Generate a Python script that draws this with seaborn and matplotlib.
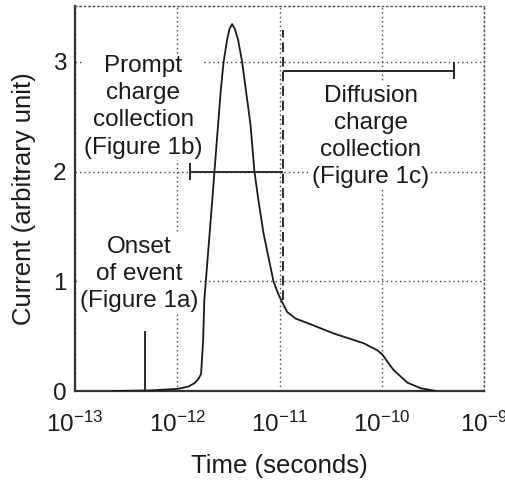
import numpy as np
import pandas as pd
import matplotlib
matplotlib.use("Agg")
import matplotlib.pyplot as plt
import seaborn as sns

# ---- data ----
time_s = [2.36e-13, 5.43e-13, 1.02e-12, 1.28e-12, 1.47e-12, 1.61e-12, 1.71e-12,
          1.79e-12, 1.84e-12, 2.01e-12, 2.20e-12, 2.31e-12, 2.51e-12, 2.67e-12,
          2.84e-12, 3.07e-12, 3.24e-12, 3.44e-12, 3.66e-12, 3.94e-12, 4.31e-12,
          5.20e-12, 5.69e-12, 6.22e-12, 6.97e-12, 8.73e-12, 9.77e-12, 1.06e-11,
          1.19e-11, 1.44e-11, 1.87e-11, 3.38e-11, 6.67e-11, 9.08e-11, 1.02e-10,
          1.15e-10, 1.31e-10, 1.79e-10, 2.41e-10, 3.38e-10]
current = [0.0, 0.005, 0.02, 0.04, 0.07, 0.11, 0.155,
           0.46, 0.83, 1.28, 1.74, 2.0, 2.43, 2.75,
           3.0, 3.2, 3.3, 3.345, 3.3, 3.2, 3.0,
           2.43, 2.0, 1.74, 1.44, 1.0, 0.88, 0.81,
           0.72, 0.66, 0.62, 0.525, 0.435, 0.37, 0.33,
           0.26, 0.19, 0.075, 0.025, 0.0]

onset_time = 4.8e-13
onset_height = 0.55
split_time = 1.09e-11
split_range = [0.83, 3.29]
prompt_bar = {"start": 1.34e-12, "end": 1.09e-11, "level": 2.0}
diffusion_bar = {"start": 1.09e-11, "end": 5.05e-10, "level": 2.92}
cap_half = 0.08

xticks = [1e-13, 1e-12, 1e-11, 1e-10, 1e-9]
yticks = [0, 1, 2, 3]
annotations = [
    ("Prompt\ncharge\ncollection\n(Figure 1b)", 4.65e-13, 2.59),
    ("Diffusion\ncharge\ncollection\n(Figure 1c)", 7.8e-11, 2.32),
    ("Onset\nof event\n(Figure 1a)", 4.25e-13, 1.07),
]

# ---- style ----
sns.set_theme(style="white")
plt.rcParams["font.family"] = ["Liberation Sans", "DejaVu Sans"]
plt.rcParams["mathtext.fontset"] = "custom"
plt.rcParams["mathtext.rm"] = "Liberation Sans"
plt.rcParams["mathtext.it"] = "Liberation Sans:italic"
plt.rcParams["mathtext.bf"] = "Liberation Sans:bold"

fig = plt.figure(figsize=(5.05, 4.82), dpi=100)
ax = fig.add_axes([75 / 505, 1 - 391 / 482, (484 - 75) / 505, (391 - 6) / 482])

df = pd.DataFrame({"time": time_s, "current": current})
sns.lineplot(data=df, x="time", y="current", ax=ax, color="#1a1a1a",
             linewidth=1.3, sort=False, zorder=4)

ax.set_xscale("log")
ax.set_xlim(1e-13, 1e-9)
ax.set_ylim(0, 3.51)
ax.set_xticks(xticks)
ax.set_yticks(yticks)
ax.minorticks_off()
ax.xaxis.set_minor_locator(matplotlib.ticker.NullLocator())

ax.set_axisbelow(True)
ax.grid(True, which="major", color="#444444", linestyle=(0, (1, 2.2)), linewidth=1.0)

for side in ["top", "right"]:
    ax.spines[side].set_linestyle((0, (1, 2.2)))
    ax.spines[side].set_linewidth(1.0)
    ax.spines[side].set_color("#555555")
for side in ["left", "bottom"]:
    ax.spines[side].set_linewidth(1.6)
    ax.spines[side].set_color("#333333")

ax.tick_params(axis="both", length=0, labelsize=17.5, colors="#1a1a1a")
ax.tick_params(axis="x", pad=15)
ax.tick_params(axis="y", pad=6)

ax.set_xlabel("Time (seconds)", fontsize=18.5, color="#1a1a1a", labelpad=12)
ax.set_ylabel("Current (arbitrary unit)", fontsize=18.5, color="#1a1a1a", labelpad=12)

# annotation marks
lc = "#2a2a2a"
ax.vlines(onset_time, 0, onset_height, color=lc, linewidth=1.4, zorder=4)
ax.vlines(split_time, split_range[0], split_range[1], color=lc, linewidth=1.4,
          linestyles=(0, (5, 2.5)), zorder=4)
ax.hlines(prompt_bar["level"], prompt_bar["start"], prompt_bar["end"], color=lc,
          linewidth=1.4, zorder=4)
ax.vlines(prompt_bar["start"], prompt_bar["level"] - cap_half, prompt_bar["level"] + cap_half,
          color=lc, linewidth=1.4, zorder=4)
ax.hlines(diffusion_bar["level"], diffusion_bar["start"], diffusion_bar["end"], color=lc,
          linewidth=1.4, zorder=4)
ax.vlines(diffusion_bar["end"], diffusion_bar["level"] - cap_half, diffusion_bar["level"] + cap_half,
          color=lc, linewidth=1.4, zorder=4)

for txt, x, y in annotations:
    ax.text(x, y, txt, ha="center", va="center", fontsize=17.5, color="#1a1a1a",
            linespacing=1.3, zorder=3,
            bbox=dict(facecolor="white", edgecolor="none", pad=1.0))

fig.savefig("out.png", dpi=100)
